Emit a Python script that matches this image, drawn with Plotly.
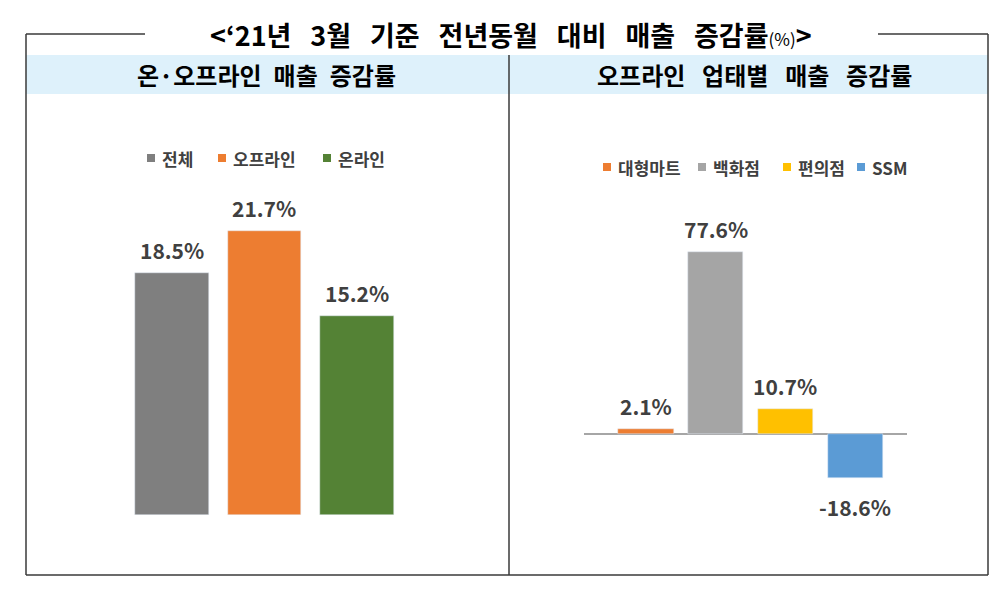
import plotly.graph_objects as go

W, H = 1000, 591
OFF = 8  # 페이지 기본 여백 보정

# 데이터
channels = ["전체", "오프라인", "온라인"]
channel_growth = [18.5, 21.7, 15.2]
channel_colors = ["#7f7f7f", "#ed7d31", "#548235"]

formats = ["대형마트", "백화점", "편의점", "SSM"]
format_growth = [2.1, 77.6, 10.7, -18.6]
format_colors = ["#ed7d31", "#a5a5a5", "#ffc000", "#5b9bd5"]

FONT = "Noto Sans CJK KR"
LABEL_COLOR = "#404040"
LINE_COLOR = "#3a3a3a"
SP = "\u2002"             # 넓은 공백
TSP = "\u2002\u2009"      # 제목용 공백


def px(x):
    return (x - OFF) / W


def py(y):
    return 1 - (y - OFF) / H


fig = go.Figure()

# 막대
fig.add_trace(go.Bar(
    x=channels, y=channel_growth, marker_color=channel_colors,
    width=0.79, xaxis="x", yaxis="y", showlegend=False
))
fig.add_trace(go.Bar(
    x=formats, y=format_growth, marker_color=format_colors,
    width=0.79, xaxis="x2", yaxis="y2", showlegend=False
))

annotations = []

# 값 라벨
for c, v in zip(channels, channel_growth):
    annotations.append(dict(
        x=c, y=v, xref="x", yref="y", text=f"{v}%", showarrow=False,
        yshift=23, yanchor="middle",
        font=dict(family=FONT, size=21, color=LABEL_COLOR, weight="bold")
    ))
for c, v in zip(formats, format_growth):
    annotations.append(dict(
        x=c, y=v, xref="x2", yref="y2", text=f"{v}%", showarrow=False,
        yshift=23 if v >= 0 else -29, yanchor="middle",
        font=dict(family=FONT, size=21, color=LABEL_COLOR, weight="bold")
    ))

# 제목
title = TSP.join(["&lt;‘21년", "3월", "기준", "전년동월", "대비", "매출", "증감률"])
annotations.append(dict(
    x=px(511), y=py(34), xref="paper", yref="paper", showarrow=False,
    text=f"<b>{title}</b><span style='font-size:17px'>(%)</span><b>&gt;</b>",
    font=dict(family=FONT, size=27, color="#000000"),
    xanchor="center", yanchor="middle"
))

# 소제목
annotations.append(dict(
    x=px(266), y=py(75), xref="paper", yref="paper", showarrow=False,
    text="<b>" + SP.join(["온·오프라인", "매출", "증감률"]) + "</b>",
    font=dict(family=FONT, size=24, color="#000000"),
    xanchor="center", yanchor="middle"
))
annotations.append(dict(
    x=px(754), y=py(75), xref="paper", yref="paper", showarrow=False,
    text="<b>" + TSP.join(["오프라인", "업태별", "매출", "증감률"]) + "</b>",
    font=dict(family=FONT, size=24, color="#000000"),
    xanchor="center", yanchor="middle"
))

shapes = []

# 범례 (수동)
left_legend_x = [147, 218, 323]
right_legend_x = [603, 698, 783, 857]
for name, col, x0 in zip(channels, channel_colors, left_legend_x):
    shapes.append(dict(type="rect", xref="paper", yref="paper",
                       x0=px(x0), x1=px(x0 + 8), y0=py(162), y1=py(154),
                       fillcolor=col, line_width=0))
    annotations.append(dict(
        x=px(x0 + 13), y=py(158), xref="paper", yref="paper", showarrow=False,
        text=f"<b>{name}</b>", xanchor="left", yanchor="middle",
        font=dict(family=FONT, size=17, color=LABEL_COLOR)
    ))
for name, col, x0 in zip(formats, format_colors, right_legend_x):
    shapes.append(dict(type="rect", xref="paper", yref="paper",
                       x0=px(x0), x1=px(x0 + 8), y0=py(171), y1=py(163),
                       fillcolor=col, line_width=0))
    annotations.append(dict(
        x=px(x0 + 13), y=py(167), xref="paper", yref="paper", showarrow=False,
        text=f"<b>{name}</b>", xanchor="left", yanchor="middle",
        font=dict(family=FONT, size=17, color=LABEL_COLOR)
    ))

# 헤더 배경
shapes.append(dict(type="rect", xref="paper", yref="paper", layer="below",
                   x0=px(26), x1=px(988), y0=py(94), y1=py(55),
                   fillcolor="#def1fb", line_width=0))

# 테두리
border = [
    (26, 34, 145, 34), (878, 34, 988, 34),
    (26, 34, 26, 575), (988, 34, 988, 575),
    (26, 575, 988, 575), (509, 55, 509, 575),
]
for x0, y0, x1, y1 in border:
    shapes.append(dict(type="line", xref="paper", yref="paper",
                       x0=px(x0), y0=py(y0), x1=px(x1), y1=py(y1),
                       line=dict(color=LINE_COLOR, width=1.5)))

axis_off = dict(showgrid=False, showticklabels=False, ticks="", showline=False)

fig.update_layout(
    width=W, height=H,
    margin=dict(l=0, r=0, t=0, b=0),
    paper_bgcolor="white", plot_bgcolor="rgba(0,0,0,0)",
    font=dict(family=FONT),
    xaxis=dict(domain=[px(100), px(430)], range=[-0.778, 2.789],
               zeroline=False, **axis_off),
    yaxis=dict(domain=[py(515), py(200)], range=[0, 24.08],
               zeroline=False, **axis_off),
    xaxis2=dict(domain=[px(584), px(907)], range=[-0.8895, 3.7446],
                anchor="y2", zeroline=False, **axis_off),
    yaxis2=dict(domain=[py(500), py(220)], range=[-28.14, 91.26],
                anchor="x2", zeroline=True, zerolinecolor="#a6a6a6",
                zerolinewidth=2, **axis_off),
    annotations=annotations,
    shapes=shapes,
    bargap=0,
)

fig.write_html("out.html")
